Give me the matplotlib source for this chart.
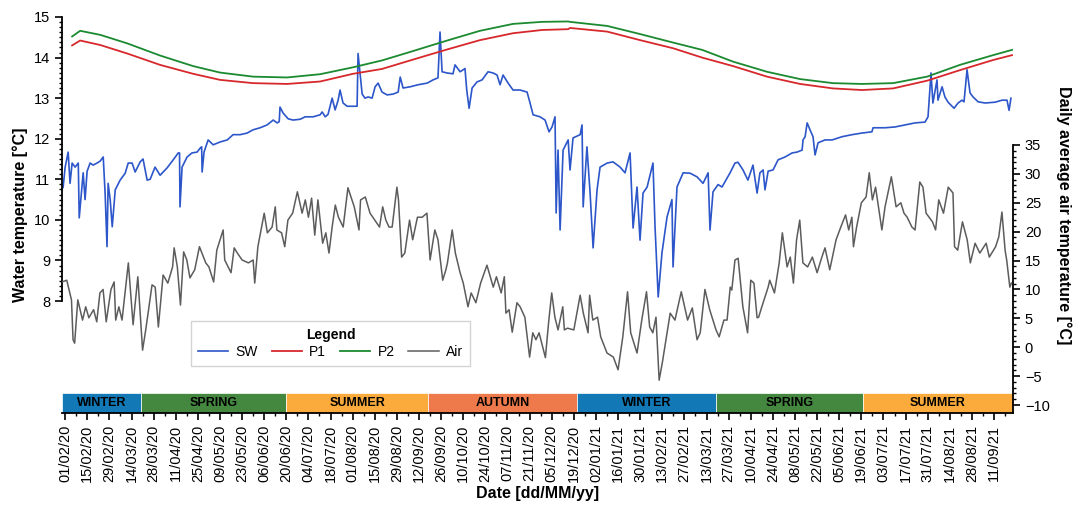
import numpy as np
import pandas as pd
import matplotlib
matplotlib.use('Agg')
import matplotlib.pyplot as plt
import matplotlib.dates as mdates
import matplotlib.transforms as mtransforms
from matplotlib.patches import Rectangle
from matplotlib.ticker import FixedLocator

plt.rcParams['font.family'] = ['Liberation Sans', 'DejaVu Sans']

# ---- data (days counted from 01/02/2020) ----
start = pd.Timestamp('2020-02-01')
x_from = pd.Timestamp('2020-01-30')
x_to = pd.Timestamp('2021-09-23')

# daily average air temperature [°C]
air_day = [-2, 1, 4, 5, 6, 8, 11, 13, 15, 18, 20, 22, 24, 26, 29, 31, 32, 34, 36, 40,
           43, 46, 49, 51, 55, 57, 59, 62, 65, 68, 69, 71, 73, 75, 77, 79, 82, 85, 89, 91,
           94, 96, 100, 101, 105, 107, 109, 112, 116, 119, 120, 122, 124, 126, 128, 131, 133, 134, 137, 139,
           141, 144, 147, 150, 152, 154, 156, 158, 160, 163, 165, 167, 169, 171, 173, 176, 179, 183, 186, 187,
           190, 193, 196, 199, 201, 203, 205, 207, 210, 211, 213, 215, 218, 220, 223, 226, 229, 231, 234, 236,
           239, 241, 242, 245, 247, 250, 252, 255, 257, 260, 263, 267, 271, 273, 276, 278, 279, 281, 283, 286,
           288, 291, 294, 296, 298, 300, 304, 306, 308, 310, 312, 315, 316, 318, 322, 326, 328, 331, 332, 334,
           337, 339, 343, 347, 350, 353, 356, 358, 362, 365, 368, 370, 372, 374, 376, 378, 381, 383, 386, 390,
           394, 397, 400, 402, 405, 408, 412, 414, 417, 419, 421, 422, 424, 426, 429, 432, 434, 436, 438, 439,
           441, 445, 446, 449, 452, 454, 457, 459, 461, 463, 465, 467, 470, 473, 476, 479, 481, 484, 488, 491,
           494, 496, 498, 499, 501, 504, 507, 509, 511, 513, 517, 519, 523, 526, 529, 531, 533, 536, 538, 541,
           543, 545, 549, 551, 553, 556, 559, 562, 563, 565, 568, 571, 573, 576, 579, 583, 585, 589, 591, 593,
           595, 596, 598, 599]
air_val = [11.3, 11.6, 8.2, 1.3, 0.7, 8.2, 4.7, 7.0, 5.1, 6.5, 4.4, 9.4, 10.0, 4.4, 10.0, 11.3, 4.7, 7.0, 4.7, 14.6,
           3.9, 12.2, -0.5, 3.0, 10.8, 10.4, 3.5, 12.5, 11.1, 13.9, 17.2, 13.9, 7.3, 16.5, 15.1, 12.0, 13.4, 17.4, 14.6, 13.9,
           11.3, 16.8, 20.3, 15.1, 12.9, 17.2, 16.3, 15.1, 14.6, 15.1, 11.1, 17.4, 20.3, 23.2, 19.8, 20.8, 24.3, 20.3, 19.8, 17.4,
           22.0, 23.2, 26.9, 23.2, 25.5, 22.5, 25.8, 19.4, 25.5, 18.0, 19.8, 16.3, 20.8, 24.6, 22.5, 20.8, 27.6, 24.3, 20.3, 25.5,
           26.0, 23.2, 22.0, 20.8, 24.3, 22.0, 20.8, 20.8, 27.7, 25.5, 15.6, 16.3, 22.0, 18.6, 22.5, 22.5, 23.2, 15.1, 20.3, 18.6,
           11.6, 13.4, 14.6, 20.3, 16.3, 12.9, 11.1, 7.0, 9.4, 7.7, 11.1, 14.2, 10.4, 12.2, 9.4, 12.2, 5.9, 6.5, 2.6, 7.7,
           7.0, 5.2, -1.7, 2.5, 1.3, 2.5, -1.8, 4.2, 9.4, 5.2, 3.0, 7.0, 3.0, 3.3, 3.0, 9.0, 5.9, 2.5, 9.0, 4.7,
           5.2, 1.8, -1.0, -1.7, -3.9, 1.8, 9.6, 2.5, -1.0, 4.7, 9.6, 3.5, 2.5, 5.2, -5.7, -2.7, 2.5, 5.9, 4.7, 9.6,
           4.7, 6.8, 1.3, 2.5, 10.0, 6.5, 3.0, 1.8, 4.7, 4.7, 10.4, 9.9, 15.1, 15.4, 7.0, 2.5, 11.6, 11.1, 5.1, 5.2,
           7.0, 10.4, 11.6, 9.4, 14.6, 19.8, 13.9, 15.6, 11.1, 18.6, 22.0, 14.6, 13.9, 15.6, 12.9, 15.6, 17.2, 13.4, 18.6, 20.8,
           22.9, 20.3, 22.5, 17.4, 20.8, 25.0, 26.0, 30.2, 25.5, 27.7, 20.3, 24.3, 29.5, 24.3, 25.0, 23.2, 22.5, 20.8, 20.3, 28.6,
           27.7, 23.2, 21.7, 20.3, 25.5, 23.2, 27.7, 26.7, 17.4, 16.8, 21.7, 18.6, 14.6, 18.0, 16.3, 18.0, 15.6, 17.4, 19.1, 23.4,
           16.8, 15.1, 10.4, 11.1]

# surface water (SW) temperature [°C]
sw_day = [-1.3, 0.0, 1.9, 3.1, 4.4, 6.3, 8.3, 8.9, 11.4, 12.6, 13.9, 15.8, 17.7, 20.2, 22.2, 24.1, 25.3, 26.5, 27.2, 28.5,
          29.8, 31.7, 34.8, 38.0, 39.9, 42.4, 44.3, 47.5, 49.3, 51.9, 53.8, 56.9, 60.1, 64.5, 68.4, 71.6, 72.4, 72.7, 74.0, 77.2,
          80.3, 83.5, 85.5, 86.4, 86.7, 87.9, 90.5, 93.7, 98.1, 102.6, 106.3, 110.8, 115.2, 119.0, 123.4, 127.8, 131.7, 134.2, 135.5, 136.0,
          138.0, 141.2, 144.3, 148.8, 151.9, 157.0, 161.4, 162.7, 164.6, 166.4, 169.0, 170.9, 172.8, 174.0, 175.9, 178.5, 182.2, 184.8, 185.4, 186.7,
          188.0, 189.8, 191.8, 194.3, 196.2, 198.1, 200.6, 203.8, 207.6, 210.8, 212.1, 213.9, 218.4, 223.4, 229.1, 232.9, 236.0, 237.3, 238.6, 241.8,
          245.5, 246.8, 250.0, 253.1, 254.2, 255.7, 257.6, 260.7, 263.9, 267.7, 270.9, 273.4, 275.3, 277.2, 280.4, 283.5, 288.0, 292.4, 294.3, 296.2,
          300.6, 303.8, 306.3, 308.2, 310.1, 310.8, 312.0, 313.3, 315.2, 318.4, 319.6, 321.5, 326.0, 327.2, 327.9, 330.3, 332.3, 334.2, 336.7, 338.6,
          343.1, 346.8, 351.3, 354.4, 357.6, 359.5, 362.0, 363.9, 365.8, 368.4, 372.1, 373.4, 375.4, 377.8, 381.0, 384.1, 384.8, 387.3, 391.2, 395.6,
          400.0, 403.8, 407.0, 408.2, 410.1, 413.3, 415.8, 417.7, 420.9, 424.0, 425.9, 429.1, 432.2, 435.4, 438.0, 439.8, 441.8, 443.0, 445.0, 448.1,
          451.3, 455.7, 460.2, 463.3, 466.5, 467.1, 468.4, 469.7, 471.5, 473.4, 474.7, 476.6, 481.0, 485.5, 491.8, 498.1, 504.4, 510.7, 511.4, 519.0,
          525.3, 531.7, 538.0, 544.3, 546.2, 548.1, 549.3, 551.9, 552.5, 555.1, 556.9, 558.9, 562.7, 565.2, 567.7, 569.0, 570.9, 572.8, 574.7, 577.9,
          582.3, 588.6, 593.1, 596.2, 597.5, 598.7]
sw_val = [10.8, 11.3, 11.67, 10.9, 11.4, 11.3, 11.4, 10.05, 11.16, 10.5, 11.2, 11.4, 11.35, 11.4, 11.45, 11.55, 10.65, 9.34, 10.9, 10.5,
          9.83, 10.74, 10.98, 11.15, 11.4, 11.4, 11.18, 11.43, 11.5, 10.98, 11.0, 11.3, 11.1, 11.28, 11.48, 11.65, 11.65, 10.32, 11.3, 11.55,
          11.65, 11.67, 11.77, 11.8, 11.18, 11.67, 11.97, 11.85, 11.92, 11.97, 12.1, 12.1, 12.14, 12.22, 12.27, 12.34, 12.46, 12.39, 12.42, 12.78,
          12.63, 12.49, 12.46, 12.48, 12.54, 12.54, 12.59, 12.66, 12.54, 12.6, 13.0, 12.71, 12.95, 13.2, 12.88, 12.8, 12.8, 12.8, 14.1, 13.6,
          13.1, 13.0, 13.03, 13.0, 13.28, 13.37, 13.15, 13.08, 13.1, 13.15, 13.52, 13.25, 13.28, 13.33, 13.37, 13.45, 13.5, 14.63, 13.65, 13.62,
          13.6, 13.82, 13.65, 13.73, 13.2, 12.75, 13.25, 13.4, 13.45, 13.65, 13.62, 13.57, 13.33, 13.57, 13.37, 13.2, 13.2, 13.15, 12.88, 12.59,
          12.54, 12.46, 12.17, 12.29, 12.54, 10.17, 11.72, 9.75, 11.72, 11.97, 11.23, 12.02, 12.1, 12.34, 10.32, 11.8, 10.66, 9.31, 10.74, 11.3,
          11.4, 11.43, 11.3, 11.16, 11.65, 9.8, 10.81, 9.5, 10.66, 10.81, 11.4, 9.83, 8.1, 9.19, 10.07, 10.5, 8.84, 10.81, 11.16, 11.15,
          11.06, 10.9, 11.16, 9.75, 10.69, 10.87, 10.81, 10.94, 11.16, 11.4, 11.42, 11.23, 10.98, 11.35, 10.66, 11.16, 11.23, 10.74, 11.2, 11.23,
          11.48, 11.55, 11.65, 11.67, 11.72, 11.97, 12.05, 12.39, 12.22, 12.05, 11.6, 11.9, 11.97, 11.97, 12.05, 12.1, 12.14, 12.17, 12.27, 12.27,
          12.29, 12.34, 12.39, 12.41, 12.54, 13.62, 12.88, 13.45, 12.95, 13.28, 13.03, 12.9, 12.75, 12.88, 12.95, 12.91, 13.7, 13.13, 13.03, 12.91,
          12.88, 12.9, 12.95, 12.95, 12.7, 13.0]

# piezometers P1 and P2 [°C]
p_day = [4.4, 9.5, 22.2, 39.3, 60.1, 81.0, 98.1, 119.0, 140.5, 161.4, 182.2, 200.6, 219.3, 241.8, 262.6, 283.5, 301.9,
         318.4, 319.6, 343.1, 363.9, 384.8, 403.2, 422.8, 444.3, 465.2, 486.0, 504.4, 524.1, 545.6, 566.4, 587.4, 599.4]
p1_val = [14.3, 14.42, 14.31, 14.1, 13.82, 13.6, 13.45, 13.37, 13.35, 13.41, 13.6, 13.72, 13.94, 14.2, 14.43, 14.6, 14.68,
          14.7, 14.73, 14.64, 14.43, 14.23, 14.0, 13.79, 13.53, 13.35, 13.24, 13.2, 13.24, 13.43, 13.69, 13.94, 14.06]
p2_val = [14.52, 14.66, 14.56, 14.35, 14.05, 13.79, 13.63, 13.53, 13.51, 13.59, 13.76, 13.93, 14.15, 14.42, 14.66, 14.83, 14.88,
          14.89, 14.88, 14.78, 14.58, 14.37, 14.19, 13.9, 13.65, 13.47, 13.37, 13.35, 13.37, 13.53, 13.82, 14.06, 14.19]

# seasons
season_names = ['WINTER', 'SPRING', 'SUMMER', 'AUTUMN', 'WINTER', 'SPRING', 'SUMMER']
season_starts = ['2020-01-30', '2020-03-20', '2020-06-20', '2020-09-18', '2020-12-21', '2021-03-19', '2021-06-20']
season_colors = {'WINTER': '#1278b6', 'SPRING': '#44883f', 'SUMMER': '#fbab3b', 'AUTUMN': '#ee7a4b'}

t0 = mdates.date2num(start)


def to_num(days):
    return t0 + np.asarray(days, dtype=float)


# ---- figure ----
fig = plt.figure(figsize=(10.75, 5.08), dpi=100)
ax = fig.add_axes([62 / 1075, 1 - 413 / 508, 951 / 1075, 396 / 508])
ax2 = ax.twinx()

l_sw, = ax.plot(to_num(sw_day), sw_val, color='#2c56c9', lw=1.2, label='SW')
l_p1, = ax.plot(to_num(p_day), p1_val, color='#d7282c', lw=1.3, label='P1')
l_p2, = ax.plot(to_num(p_day), p2_val, color='#1b8a30', lw=1.3, label='P2')
l_air, = ax2.plot(to_num(air_day), air_val, color='#5c5c5c', lw=1.1, label='Air')

x_start = mdates.date2num(x_from)
x_end = mdates.date2num(x_to)
ax.set_xlim(x_start, x_end)
ax.set_ylim(5.24, 15)
ax2.set_ylim(-11.38, 57.15)

# spines
ax.spines['top'].set_visible(False)
ax.spines['right'].set_visible(False)
ax.spines['left'].set_bounds(8, 15)
for s in ['top', 'left', 'bottom']:
    ax2.spines[s].set_visible(False)
ax2.spines['right'].set_bounds(-11.38, 35)
ax.spines['bottom'].set_linewidth(1.3)
ax.spines['left'].set_linewidth(1.3)
ax2.spines['right'].set_linewidth(1.3)

# y ticks
ax.yaxis.set_major_locator(FixedLocator(np.arange(8, 16)))
ax.yaxis.set_minor_locator(FixedLocator(np.arange(8, 15.01, 0.125)))
ax.tick_params(axis='y', which='major', direction='out', length=5, width=1.2, labelsize=10.5)
ax.tick_params(axis='y', which='minor', direction='out', length=2.5, width=1)
ax2.yaxis.set_major_locator(FixedLocator(np.arange(-10, 36, 5)))
ax2.yaxis.set_minor_locator(FixedLocator(np.arange(-10, 36, 1)))
ax2.tick_params(axis='y', which='major', direction='out', length=5, width=1.2, labelsize=10.5)
ax2.tick_params(axis='y', which='minor', direction='out', length=2.5, width=1)

# x ticks
major_dates = pd.date_range('2020-02-01', '2021-09-11', freq='14D')
minor_dates = pd.date_range('2020-02-01', '2021-09-22', freq='7D')
ax.xaxis.set_major_locator(FixedLocator(mdates.date2num(major_dates)))
ax.xaxis.set_minor_locator(FixedLocator(mdates.date2num(minor_dates)))
ax.xaxis.set_major_formatter(mdates.DateFormatter('%d/%m/%y'))
ax.tick_params(axis='x', which='major', direction='out', length=5, width=1.2, labelsize=10.5,
               labelrotation=90)
ax.tick_params(axis='x', which='minor', direction='out', length=2.5, width=1)

# season bar
trans = mtransforms.blended_transform_factory(ax.transData, ax.transAxes)
bounds = list(mdates.date2num(pd.to_datetime(season_starts))) + [x_end]
for i, name in enumerate(season_names):
    x0, x1 = bounds[i], bounds[i + 1]
    ax.add_patch(Rectangle((x0, 0), x1 - x0, 0.0505, transform=trans,
                           facecolor=season_colors[name], edgecolor='white', lw=0.5,
                           zorder=1, clip_on=False))
    ax.text((x0 + x1) / 2, 0.026, name, transform=trans, ha='center', va='center',
            fontsize=9, fontweight='bold', color='black', zorder=2)

# labels
ax.set_ylabel('Water temperature [°C]', fontsize=11.5, fontweight='bold', labelpad=4)
ax2.set_ylabel('Daily average air temperature [°C]', fontsize=11.5, fontweight='bold',
               rotation=270, labelpad=16)
ax.set_xlabel('Date [dd/MM/yy]', fontsize=11.5, fontweight='bold', labelpad=3)

# legend
leg = ax2.legend(handles=[l_sw, l_p1, l_p2, l_air], loc='lower left',
                 bbox_to_anchor=(0.1356, 0.1187), borderaxespad=0, ncol=4,
                 title='Legend', title_fontproperties={'weight': 'bold', 'size': 10},
                 fontsize=10, frameon=True, fancybox=False, edgecolor='#c8c8c8',
                 handlelength=2.2, handletextpad=0.5, columnspacing=1.0,
                 borderpad=0.5, labelspacing=0.2)
leg.get_frame().set_linewidth(1.0)

fig.savefig('out.png', dpi=100)
